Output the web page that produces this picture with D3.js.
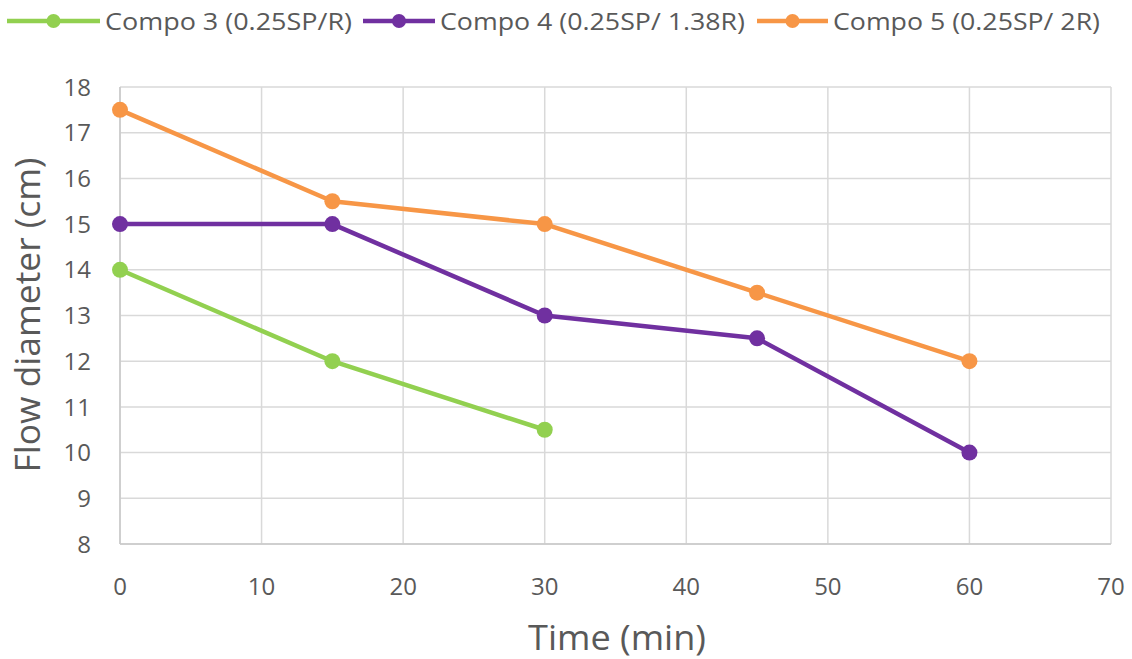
<!DOCTYPE html>
<html><head><meta charset="utf-8">
<script src="https://cdn.jsdelivr.net/npm/d3@7"></script>
<style>body{margin:0;background:#fff}svg{display:block}</style>
</head><body>
<svg id="c" width="1132" height="659"></svg>
<script>
const seriesNames = ["Compo 3 (0.25SP/R)", "Compo 4 (0.25SP/ 1.38R)", "Compo 5 (0.25SP/ 2R)"];
const seriesColors = ["#92D050", "#7030A0", "#F79646"];
const compo3X = [0, 15, 30];
const compo3Y = [14, 12, 10.5];
const compo4X = [0, 15, 30, 45, 60];
const compo4Y = [15, 15, 13, 12.5, 10];
const compo5X = [0, 15, 30, 45, 60];
const compo5Y = [17.5, 15.5, 15, 13.5, 12];
const xTicks = [0, 10, 20, 30, 40, 50, 60, 70];
const yTicks = [8, 9, 10, 11, 12, 13, 14, 15, 16, 17, 18];

const series = [
  {name: seriesNames[0], color: seriesColors[0], pts: compo3X.map((x,i)=>[x, compo3Y[i]])},
  {name: seriesNames[1], color: seriesColors[1], pts: compo4X.map((x,i)=>[x, compo4Y[i]])},
  {name: seriesNames[2], color: seriesColors[2], pts: compo5X.map((x,i)=>[x, compo5Y[i]])}
];

const svg = d3.select("#c");
const x = d3.scaleLinear().domain([0, 70]).range([120, 1111]);
const y = d3.scaleLinear().domain([8, 18]).range([544, 87]);

svg.append("g").selectAll("line").data(yTicks).join("line")
  .attr("x1", x(0)).attr("x2", x(70)).attr("y1", d=>y(d)).attr("y2", d=>y(d))
  .attr("stroke", "#d9d9d9").attr("stroke-width", 1.5);
svg.append("g").selectAll("line").data(xTicks).join("line")
  .attr("x1", d=>x(d)).attr("x2", d=>x(d)).attr("y1", y(8)).attr("y2", y(18))
  .attr("stroke", "#d9d9d9").attr("stroke-width", 1.5);
svg.append("line").attr("x1", x(0)).attr("x2", x(70)).attr("y1", y(8)).attr("y2", y(8)).attr("stroke", "#c8c8c8").attr("stroke-width", 1.5);
svg.append("line").attr("x1", x(0)).attr("x2", x(0)).attr("y1", y(8)).attr("y2", y(18)).attr("stroke", "#c8c8c8").attr("stroke-width", 1.5);

const font = "'Open Sans', 'Liberation Sans', sans-serif";
svg.append("g").selectAll("text").data(yTicks).join("text")
  .attr("x", 91).attr("y", d=>y(d)).attr("dy", "0.36em").attr("text-anchor", "end")
  .attr("font-family", font).attr("font-size", 24).attr("fill", "#595959").text(d=>d);
svg.append("g").selectAll("text").data(xTicks).join("text")
  .attr("x", d=>x(d)).attr("y", 595).attr("text-anchor", "middle")
  .attr("font-family", font).attr("font-size", 24).attr("fill", "#595959").text(d=>d);

svg.append("text").attr("x", 617).attr("y", 650).attr("text-anchor", "middle")
  .attr("font-family", font).attr("font-size", 35).attr("fill", "#595959")
  .attr("textLength", 178).attr("lengthAdjust", "spacingAndGlyphs").text("Time (min)");
svg.append("text").attr("transform", "translate(40,315) rotate(-90)").attr("text-anchor", "middle")
  .attr("font-family", font).attr("font-size", 35).attr("fill", "#595959")
  .attr("textLength", 315).attr("lengthAdjust", "spacingAndGlyphs").text("Flow diameter (cm)");

const line = d3.line().x(d=>x(d[0])).y(d=>y(d[1]));
series.forEach(s => {
  svg.append("path").datum(s.pts).attr("d", line).attr("fill", "none")
    .attr("stroke", s.color).attr("stroke-width", 4.5).attr("stroke-linejoin", "round");
  svg.append("g").selectAll("circle").data(s.pts).join("circle")
    .attr("cx", d=>x(d[0])).attr("cy", d=>y(d[1])).attr("r", 8).attr("fill", s.color);
});

const legLine = [[7, 100], [363, 435], [757, 828]];
const legText = [105, 440, 833];
const legLen = [247, 305, 267];
series.forEach((s, i) => {
  svg.append("line").attr("x1", legLine[i][0]).attr("x2", legLine[i][1]).attr("y1", 21).attr("y2", 21)
    .attr("stroke", s.color).attr("stroke-width", 4.5);
  svg.append("circle").attr("cx", (legLine[i][0] + legLine[i][1]) / 2).attr("cy", 21).attr("r", 7).attr("fill", s.color);
  svg.append("text").attr("x", legText[i]).attr("y", 21).attr("dy", "0.36em")
    .attr("font-family", font).attr("font-size", 24).attr("fill", "#595959")
    .attr("textLength", legLen[i]).attr("lengthAdjust", "spacingAndGlyphs").text(s.name);
});
</script>
</body></html>
